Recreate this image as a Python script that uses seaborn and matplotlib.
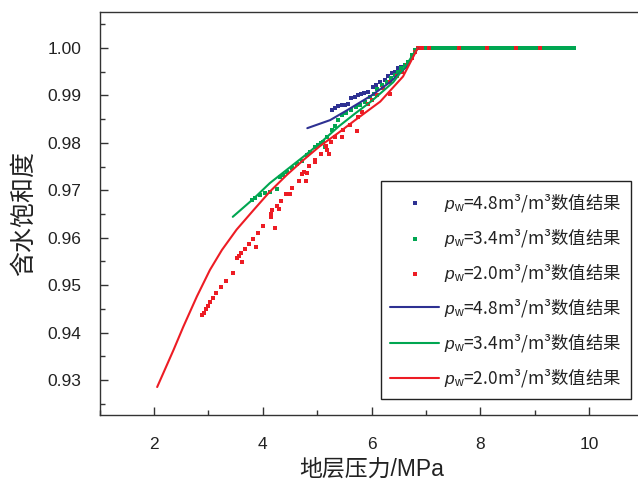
import matplotlib
matplotlib.use("Agg")
import matplotlib.pyplot as plt
import seaborn as sns
from matplotlib.ticker import MultipleLocator, FormatStrFormatter

# ---------------- data ----------------
labels = [r"$p_{\mathrm{w}}$=4.8m³/m³数值结果",
          r"$p_{\mathrm{w}}$=3.4m³/m³数值结果",
          r"$p_{\mathrm{w}}$=2.0m³/m³数值结果"]
colors = ["#2e3192", "#00a651", "#ed1c24"]

# scatter (numerical result points)
blue_x = [5.27, 5.33, 5.39, 5.45, 5.51, 5.57, 5.63, 5.69, 5.75, 5.81, 5.87, 5.93, 6.03, 6.09,
          6.16, 6.25, 6.31, 6.37, 6.43, 6.49, 6.55, 6.61, 6.67, 6.74, 6.80,
          6.90, 7.50, 8.55, 8.90, 9.20, 9.55]
blue_y = [0.9869, 0.9874, 0.9878, 0.9880, 0.9880, 0.9883, 0.9894, 0.9897, 0.9901, 0.9903, 0.9906,
          0.9908, 0.9918, 0.9922, 0.9929, 0.9933, 0.9940, 0.9947, 0.9950, 0.9957, 0.9961, 0.9964,
          0.9971, 0.9982, 0.9992,
          1.0, 1.0, 1.0, 1.0, 1.0, 1.0]

green_x = [3.80, 3.86, 3.95, 4.04, 4.13, 4.27, 4.32, 4.38, 4.44, 4.53, 4.63, 4.72, 4.81, 4.87,
           4.96, 5.02, 5.08, 5.11, 5.15, 5.18, 5.27, 5.33, 5.39, 5.45, 5.54, 5.63, 5.72, 5.79,
           5.88, 5.97, 6.05, 6.11, 6.19, 6.28, 6.35, 6.43, 6.49, 6.55, 6.61, 6.67, 6.74, 6.80,
           6.88, 6.93, 6.98, 7.03, 7.08, 7.13, 7.18, 7.23, 7.28, 7.33, 7.38, 7.43, 7.48, 7.53,
           7.58, 7.63, 7.68, 7.73, 7.78, 7.83, 7.88, 7.93, 7.98, 8.03, 8.08, 8.13, 8.18, 8.23,
           8.28, 8.33, 8.38, 8.43, 8.48, 8.53, 8.58, 8.63, 8.68, 8.73, 8.78, 8.83, 8.88, 8.93,
           8.98, 9.03, 9.08, 9.13, 9.18, 9.23, 9.28, 9.33, 9.38, 9.43, 9.48, 9.53, 9.58, 9.63,
           9.68, 9.73]
green_y = [0.9680, 0.9683, 0.9690, 0.9695, 0.9697, 0.9703, 0.9729, 0.9732, 0.9739, 0.9746,
           0.9755, 0.9762, 0.9774, 0.9781, 0.9791, 0.9795, 0.9800, 0.9802, 0.9792, 0.9812,
           0.9827, 0.9836, 0.9848, 0.9859, 0.9864, 0.9869, 0.9876, 0.9880, 0.9887, 0.9897,
           0.9904, 0.9913, 0.9922, 0.9929, 0.9936, 0.9943, 0.9950, 0.9957, 0.9964, 0.9971,
           0.9985, 0.9996] + [1.0] * 58

red_x = [2.88, 2.92, 2.96, 3.00, 3.04, 3.09, 3.15, 3.23, 3.33, 3.46, 3.53, 3.56, 3.61, 3.62,
         3.67, 3.74, 3.82, 3.87, 3.91, 4.01, 4.15, 4.15, 4.18, 4.23, 4.26, 4.30, 4.34, 4.43,
         4.51, 4.54, 4.66, 4.72, 4.76, 4.79, 4.81, 4.86, 4.96, 4.97, 5.07, 5.17, 5.19, 5.21,
         5.26, 5.33, 5.45, 5.48, 5.60, 5.73, 5.76, 5.82, 5.94, 6.00, 6.10, 6.22, 6.34, 6.34,
         6.46, 6.56, 6.65, 6.74, 6.80,
         6.86, 6.92, 7.05, 7.60, 8.12, 8.65, 9.10]
red_y = [0.9436, 0.9442, 0.9449, 0.9456, 0.9464, 0.9472, 0.9483, 0.9495, 0.9509, 0.9526,
         0.9557, 0.9561, 0.9568, 0.9548, 0.9576, 0.9586, 0.9597, 0.9581, 0.9610, 0.9625,
         0.9643, 0.9651, 0.9658, 0.9621, 0.9667, 0.9661, 0.9678, 0.9692, 0.9692, 0.9705,
         0.9720, 0.9734, 0.9739, 0.9720, 0.9737, 0.9752, 0.9764, 0.9759, 0.9777, 0.9793,
         0.9785, 0.9776, 0.9802, 0.9813, 0.9813, 0.9827, 0.9838, 0.9824, 0.9855, 0.9866,
         0.9883, 0.9890, 0.9901, 0.9915, 0.9904, 0.9929, 0.9940, 0.9950, 0.9964, 0.9978,
         0.9992,
         1.0, 1.0, 1.0, 1.0, 1.0, 1.0, 1.0]

# lines (numerical curves)
blue_line_x = [4.82, 5.24, 5.54, 6.00, 6.34, 6.65, 6.85]
blue_line_y = [0.9831, 0.9848, 0.9868, 0.9900, 0.9928, 0.9961, 1.0]
green_line_x = [3.45, 3.83, 4.13, 4.44, 4.75, 5.05, 5.39, 5.70, 6.00, 6.40, 6.65, 6.84]
green_line_y = [0.9644, 0.9682, 0.9715, 0.9743, 0.9771, 0.9799, 0.9834, 0.9862, 0.9888, 0.9928,
                0.9966, 1.0]
red_line_x = [2.06, 2.36, 2.54, 2.79, 3.03, 3.25, 3.52, 3.83, 4.13, 4.44, 4.75, 5.05, 5.39,
              5.70, 6.16, 6.58, 6.85]
red_line_y = [0.9285, 0.9363, 0.9412, 0.9476, 0.9532, 0.9574, 0.9617, 0.9658, 0.9697, 0.9732,
              0.9764, 0.9793, 0.9821, 0.9848, 0.9887, 0.9940, 1.0]

xticks = [2, 4, 6, 8, 10]
yticks = [0.93, 0.94, 0.95, 0.96, 0.97, 0.98, 0.99, 1.00]

# ---------------- style ----------------
sns.set_style("ticks")
plt.rcParams["font.family"] = ["Liberation Sans", "Noto Sans CJK SC"]
plt.rcParams["mathtext.fontset"] = "custom"
plt.rcParams["mathtext.rm"] = "Liberation Sans"
plt.rcParams["mathtext.it"] = "Liberation Sans:italic"

fig = plt.figure(figsize=(6.38, 4.88), dpi=100)
ax = fig.add_axes([99.5 / 638, 73 / 488, 544 / 638, 403 / 488])

scatters = [(blue_x, blue_y), (green_x, green_y), (red_x, red_y)]
for (sx, sy), c, lab in zip(scatters, colors, labels):
    sns.scatterplot(x=sx, y=sy, ax=ax, color=c, marker="s", s=9, linewidth=0, label=lab)

lines = [(blue_line_x, blue_line_y), (green_line_x, green_line_y), (red_line_x, red_line_y)]
for (lx, ly), c, lab in zip(lines, colors, labels):
    sns.lineplot(x=lx, y=ly, ax=ax, color=c, linewidth=1.5, estimator=None, sort=False, label=lab)

ax.set_xlim(1, 11)
ax.set_ylim(0.9226, 1.0076)
ax.set_xticks(xticks)
ax.set_yticks(yticks)
ax.xaxis.set_minor_locator(MultipleLocator(1))
ax.yaxis.set_minor_locator(MultipleLocator(0.005))
ax.yaxis.set_major_formatter(FormatStrFormatter("%.2f"))

spine_c = "#333333"
for side in ["left", "bottom", "top"]:
    ax.spines[side].set_color(spine_c)
    ax.spines[side].set_linewidth(1.0)
ax.spines["right"].set_visible(False)

ax.tick_params(axis="both", which="major", direction="in", length=6, width=1.0,
               color=spine_c, labelsize=12.5, labelcolor="#222222")
ax.tick_params(axis="both", which="minor", direction="in", length=3.5, width=1.0, color=spine_c)
ax.tick_params(axis="y", which="both", pad=13)
ax.tick_params(axis="x", which="both", pad=16)
ax.tick_params(top=False, right=False, which="both")

ax.set_xlabel("地层压力/MPa", fontsize=16.5, color="#222222", labelpad=4)
ax.set_ylabel("含水饱和度", fontsize=18, color="#222222", labelpad=8)

leg = ax.legend(loc="upper right", bbox_to_anchor=(631 / 638, 1 - 181 / 488),
                bbox_transform=fig.transFigure, borderaxespad=0,
                prop={"family": "Noto Sans CJK SC", "size": 12.5},
                frameon=True, fancybox=False, edgecolor="#222222", framealpha=1,
                handlelength=2.8, handletextpad=0.3, labelspacing=0.7, borderpad=0.55,
                markerscale=1.0)
leg.get_frame().set_linewidth(1.0)
for t in leg.get_texts():
    t.set_color("#222222")

fig.savefig("out.png", dpi=100)
